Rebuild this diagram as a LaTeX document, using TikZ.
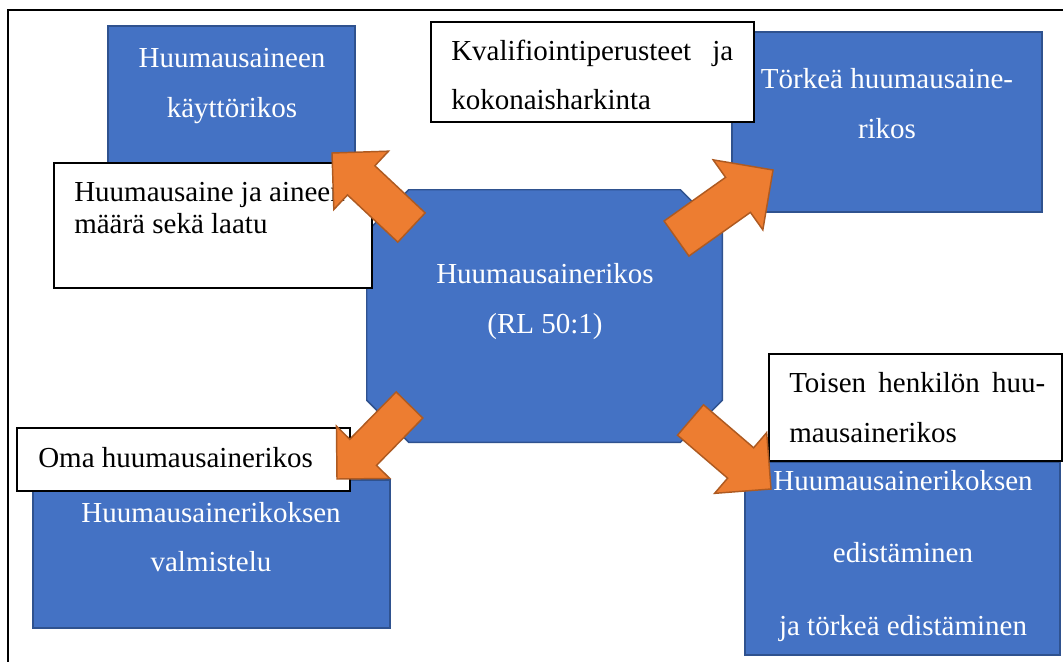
\documentclass[tikz,border=0pt]{standalone}
\usepackage{fontspec}
\setmainfont{Liberation Serif}
\usetikzlibrary{calc,fit}

\definecolor{boxblue}{HTML}{4472C4}
\definecolor{boxblueedge}{HTML}{2F528F}
\definecolor{arroworange}{HTML}{ED7D31}
\definecolor{arrowedge}{HTML}{AE5A21}

% Block arrow from tail centre #1 to tip #2; #3 = half shaft width, #4 = shaft width
% (head half-width and head length equal the shaft width)
\newcommand\blockarrow[4]{%
  \coordinate (ah) at ($(#2)!#4!(#1)$);
  \draw[orangearrow]
    ($(#1)!#3!90:(#2)$) -- ($(ah)!#3!90:(#2)$) -- ($(ah)!#4!90:(#2)$) -- (#2)
    -- ($(ah)!#4!-90:(#2)$) -- ($(ah)!#3!-90:(#2)$) -- ($(#1)!#3!-90:(#2)$) -- cycle;}

\begin{document}
\begin{tikzpicture}[x=0.75pt,y=-0.75pt,
  bluebox/.style={draw=boxblueedge, line width=1.1pt, fill=boxblue, inner sep=0pt},
  notebox/.style={draw=black, line width=0.9pt, fill=white, inner sep=0pt},
  bigfont/.style={font=\fontsize{21.75}{26}\selectfont},
  whitetxt/.style={bigfont, text=white, inner sep=0pt, anchor=base},
  blacktxt/.style={bigfont, text=black, inner sep=0pt, anchor=base west},
  orangearrow/.style={fill=arroworange, draw=arrowedge, line width=1.1pt, line join=miter}
]
\useasboundingbox (0,0) rectangle (1063,661);
\clip (0,0) rectangle (1063,661);
\fill[white] (0,0) rectangle (1063,661);

% page frame
\draw[line width=1.9pt] (8,680) -- (8,10) -- (1080,10);

% outer offence boxes
\node[bluebox, fit={(108,26) (355,165)}] (use) {};
\node[whitetxt] (use1) at (232,67) {Huumausaineen};
\node[whitetxt] (use2) at (232,117) {käyttörikos};

\node[bluebox, fit={(732,32) (1042,212)}] (grave) {};
\node[whitetxt] (grave1) at (887,88) {Törkeä huumausaine-};
\node[whitetxt] (grave2) at (887,138) {rikos};

\node[bluebox, fit={(33,480) (390,628)}] (prep) {};
\node[whitetxt] (prep1) at (211,522) {Huumausainerikoksen};
\node[whitetxt] (prep2) at (211,571) {valmistelu};

\node[bluebox, fit={(745,462) (1060,655)}] (promo) {};
\node[whitetxt] (promo1) at (903,490) {Huumausainerikoksen};
\node[whitetxt] (promo2) at (903,562) {edistäminen};
\node[whitetxt] (promo3) at (903,635) {ja törkeä edistäminen};

% central offence (octagon)
\node[fit={(367,190) (722,442)}, inner sep=0pt] (core) {};
\draw[bluebox]
  ($(core.north west)+(42,0)$) -- ($(core.north east)+(-42,0)$)
  -- ($(core.north east)+(0,42)$) -- ($(core.south east)+(0,-42)$)
  -- ($(core.south east)+(-42,0)$) -- ($(core.south west)+(42,0)$)
  -- ($(core.south west)+(0,-42)$) -- ($(core.north west)+(0,42)$) -- cycle;
\node[whitetxt] (core1) at (545,283) {Huumausainerikos};
\node[whitetxt] (core2) at (545,333) {(RL 50:1)};

% criteria notes
\node[notebox, fit={(54,163) (372,288)}] (note1) {};
\node[blacktxt] (note1a) at (74,201) {Huumausaine ja aineen};
\node[blacktxt] (note1b) at (74,233) {määrä sekä laatu};

\node[notebox, fit={(431,22) (754,122)}] (note2) {};
\node[blacktxt] (note2a) at (451,60) {\hbox to 211.5pt{Kvalifiointiperusteet\hfill ja}};
\node[blacktxt] (note2b) at (451,109) {kokonaisharkinta};

\node[notebox, fit={(17,428) (350,491)}] (note3) {};
\node[blacktxt] (note3a) at (38,467) {Oma huumausainerikos};

\node[notebox, fit={(769,354) (1062,461)}] (note4) {};
\node[blacktxt] (note4a) at (789,392) {\hbox to 192pt{Toisen\hfill henkilön\hfill huu-}};
\node[blacktxt] (note4b) at (789,442) {mausainerikos};

% arrows from the central offence
\coordinate (t1) at (411.5,227.5); \coordinate (p1) at (332,153);
\coordinate (t2) at (676.5,238.5); \coordinate (p2) at (773,170);
\coordinate (t3) at (409.5,405);   \coordinate (p3) at (337,479);
\coordinate (t4) at (690.5,420);   \coordinate (p4) at (771,489);
\blockarrow{t1}{p1}{15pt}{30pt}
\blockarrow{t2}{p2}{16.1pt}{32.2pt}
\blockarrow{t3}{p3}{14pt}{28pt}
\blockarrow{t4}{p4}{15pt}{30pt}
\end{tikzpicture}
\end{document}
